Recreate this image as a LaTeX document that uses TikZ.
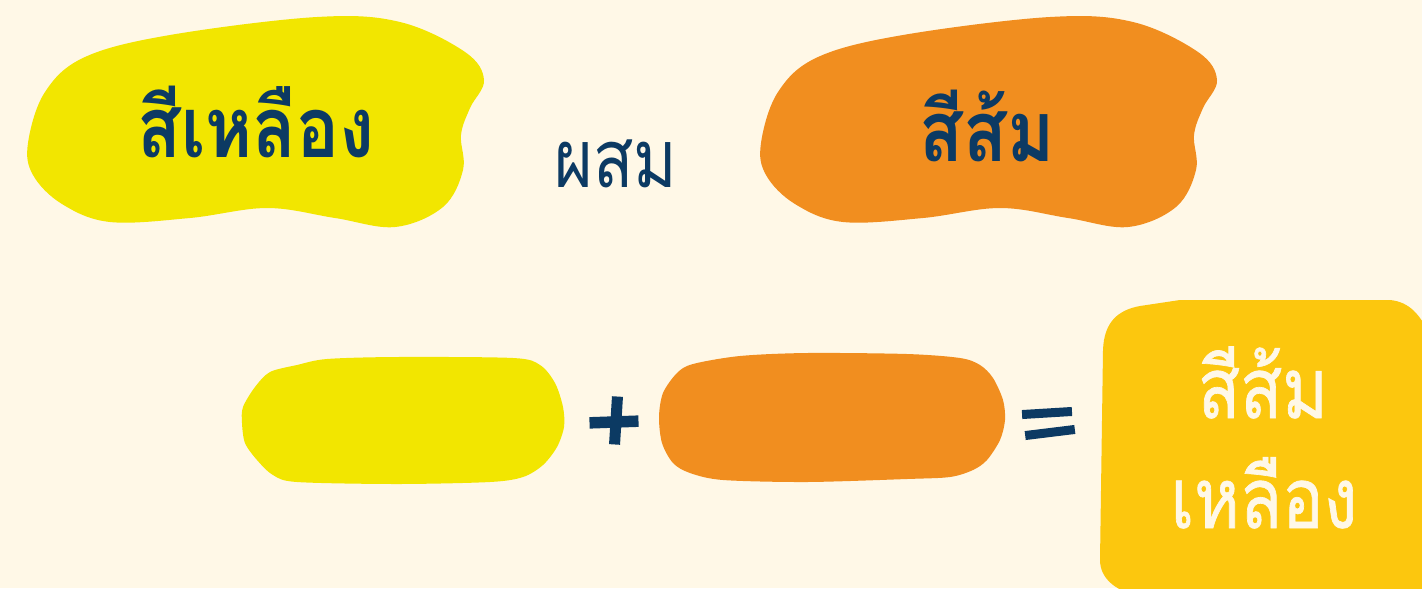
\documentclass[tikz,border=0pt]{standalone}
\usepackage{fontspec}
\newfontfamily\thaihead[Script=Thai,FakeStretch=0.85]{Loma}
\newfontfamily\thaifont[Script=Thai,FakeStretch=0.82]{Loma}
\newfontfamily\thaimid[Script=Thai,FakeStretch=0.82,FakeBold=0.8]{Loma}
\definecolor{paper}{HTML}{FFF8E7}
\definecolor{lemon}{HTML}{F2E600}
\definecolor{tangerine}{HTML}{F18E1F}
\definecolor{amber}{HTML}{FCC70E}
\definecolor{ink}{HTML}{0C3A63}
\tikzset{
  title/.style={font=\thaihead\bfseries\fontsize{24}{28}\selectfont,text=ink,anchor=base,inner sep=0},
  mixlab/.style={font=\thaifont\fontsize{23}{28}\selectfont,text=ink,anchor=base,inner sep=0},
  reslab/.style={font=\thaimid\fontsize{24}{28}\selectfont,text=paper,anchor=base,inner sep=0},
  bar/.style={rectangle,fill=ink,inner sep=0,minimum width=5mm,minimum height=1mm},
}

\begin{document}
\begin{tikzpicture}[x=0.1mm,y=-0.1mm]
  \fill[paper] (0,0) rectangle (1422,588);
  \useasboundingbox (0,0) rectangle (1422,588);
  % Row 1: the two colours as blobs, the same outline shifted
  \fill[lemon] plot[smooth cycle,tension=0.6] coordinates {
    (28,143) (45,92) (85,57) (170,35) (317,17) (400,22) (465,52) (484,80)
    (470,108) (461,135) (463,170) (443,207) (395,227) (335,218) (267,208)
    (190,218) (110,222) (62,204) (33,175)};
  \begin{scope}[shift={(733,0)}]
    \fill[tangerine] plot[smooth cycle,tension=0.6] coordinates {
      (28,143) (45,92) (85,57) (170,35) (317,17) (400,22) (465,52) (484,80)
      (470,108) (461,135) (463,170) (443,207) (395,227) (335,218) (267,208)
      (190,218) (110,222) (62,204) (33,175)};
  \end{scope}
  \node[title] (yellowname) at (256,157) {สีเหลือง};
  \node[mixlab] (mixword) at (616,187) {ผสม};
  \node[title] (orangename) at (987,161) {สีส้ม};
  % Row 2: the sum
  \fill[lemon] plot[smooth cycle,tension=0.5] coordinates {
    (243,407) (255,387) (270,372) (297,365) (327,359) (397,357) (513,358)
    (540,365) (555,383) (563,407) (564,427) (557,447) (543,465) (523,477)
    (490,482) (397,484) (297,482) (273,475) (257,460) (245,443) (242,423)};
  \fill[tangerine] plot[smooth cycle,tension=0.5] coordinates {
    (659,417) (663,393) (677,373) (693,364) (740,356) (807,353) (907,354)
    (960,358) (980,365) (993,378) (1003,400) (1005,420) (1000,440) (987,460)
    (973,470) (950,477) (907,479) (807,482) (723,480) (690,473) (673,463)
    (662,443)};
  \node[bar,rotate=2,minimum width=4.9mm,minimum height=1.15mm] (plush) at (614,422) {};
  \node[bar,rotate=-3.5,minimum width=1.1mm,minimum height=4.8mm] (plusv) at (616,420.5) {};
  \node[bar,rotate=3.5,minimum width=5mm,minimum height=0.9mm] (equtop) at (1047,413) {};
  \node[bar,rotate=7,minimum width=5mm,minimum height=0.9mm] (equbot) at (1050,432.5) {};
  \fill[amber] (1100,560) -- (1103,350) .. controls (1104,322) and (1118,310) .. (1140,306)
    -- (1180,300) -- (1390,300) .. controls (1410,302) and (1420,315) .. (1430,335)
    -- (1430,595) -- (1135,595) .. controls (1115,590) and (1100,578) .. (1100,560) -- cycle;
  \node[reslab] (resultorange) at (1263,418) {สีส้ม};
  \node[reslab] (resultyellow) at (1264,528) {เหลือง};
\end{tikzpicture}
\end{document}
